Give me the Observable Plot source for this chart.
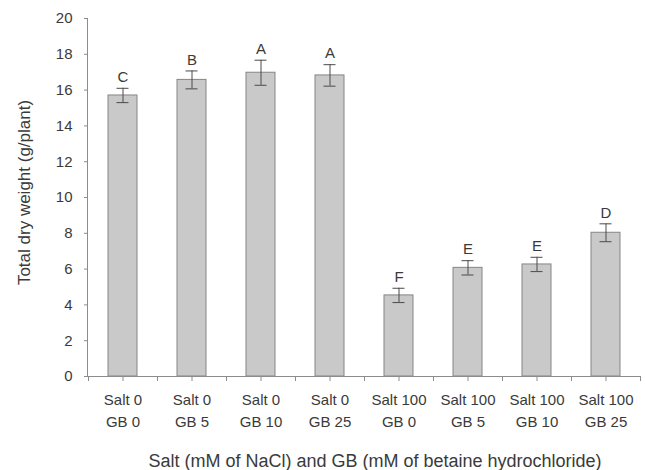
<!DOCTYPE html>
<html>
<head>
<meta charset="utf-8">
<script src="https://cdn.jsdelivr.net/npm/d3@7"></script>
<script src="https://cdn.jsdelivr.net/npm/@observablehq/plot@0.6"></script>
<style>
  html, body { margin: 0; padding: 0; background: #fff; }
</style>
</head>
<body>
<div id="chart"></div>
<script>
const salt = [0, 0, 0, 0, 100, 100, 100, 100];
const gb = [0, 5, 10, 25, 0, 5, 10, 25];
const weight = [15.7, 16.57, 16.97, 16.82, 4.53, 6.07, 6.26, 8.03];
const err = [0.4, 0.5, 0.7, 0.6, 0.4, 0.4, 0.4, 0.5];
const letters = ["C", "B", "A", "A", "F", "E", "E", "D"];
const yTicks = [0, 2, 4, 6, 8, 10, 12, 14, 16, 18, 20];
const xTitle = "Salt (mM of NaCl) and GB (mM of betaine hydrochloride)";
const yTitle = "Total dry weight (g/plant)";

const labels = salt.map((s, i) => `Salt ${s}\nGB ${gb[i]}`);
const data = labels.map((label, i) => ({label, weight: weight[i], err: err[i], letter: letters[i]}));

const axisColor = "#8c8c8c";
const textColor = "#3a3a3a";

const chart = Plot.plot({
  width: 645,
  height: 470,
  marginLeft: 87,
  marginRight: 5,
  marginTop: 18,
  marginBottom: 94,
  style: {fontFamily: "'Liberation Sans', Arial, sans-serif", fontSize: "15px", color: textColor, background: "#fff"},
  x: {domain: labels, paddingInner: 0.58, paddingOuter: 0.29, label: null},
  y: {domain: [0, 20], label: null},
  marks: [
    Plot.barY(data, {x: "label", y: "weight", fill: "#c9c9c9", stroke: "#858585", strokeWidth: 1}),
    Plot.ruleX(data, {x: "label", y1: d => d.weight - d.err, y2: d => d.weight + d.err, stroke: "#4a4a4a", strokeWidth: 1}),
    Plot.tickY(data, {x: "label", y: d => d.weight + d.err, stroke: "#4a4a4a", insetLeft: 8.5, insetRight: 8.5}),
    Plot.tickY(data, {x: "label", y: d => d.weight - d.err, stroke: "#4a4a4a", insetLeft: 8.5, insetRight: 8.5}),
    Plot.text(data, {x: "label", y: d => d.weight + d.err, text: "letter", dy: -11, fontSize: 15, fill: textColor}),
    Plot.frame({anchor: "left", stroke: axisColor}),
    Plot.frame({anchor: "bottom", stroke: axisColor}),
    Plot.axisY({ticks: yTicks, tickSize: 3, tickPadding: 12, stroke: axisColor, fill: textColor, fontSize: 15, label: null}),
    Plot.axisX({tickSize: 5, tickPadding: 8, stroke: axisColor, fill: textColor, fontSize: 15, lineHeight: 1.47, label: null}),
    Plot.axisX({tickSize: 5, dx: -34.5, tickFormat: () => "", stroke: axisColor, label: null}),
    Plot.axisX({ticks: [labels[labels.length - 1]], tickSize: 5, dx: 34.5, tickFormat: () => "", stroke: axisColor, label: null}),
    Plot.text([xTitle], {frameAnchor: "bottom", dy: 85, dx: 11, lineAnchor: "middle", textAnchor: "middle", fontSize: 18, fill: textColor}),
    Plot.text([yTitle], {frameAnchor: "left", rotate: -90, dx: -63, dy: -5, lineAnchor: "middle", textAnchor: "middle", fontSize: 17, fill: textColor})
  ]
});
document.getElementById("chart").append(chart);
</script>
</body>
</html>
